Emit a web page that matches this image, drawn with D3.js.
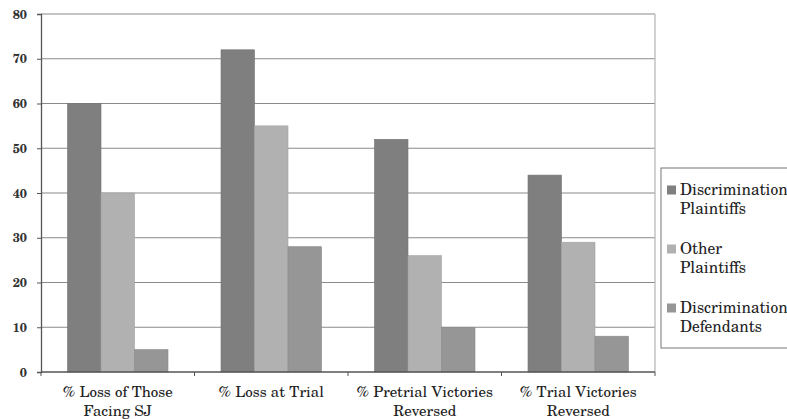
<!DOCTYPE html>
<html><head><meta charset="utf-8">
<script src="https://cdn.jsdelivr.net/npm/d3@7/dist/d3.min.js"></script>
<style>
html,body{margin:0;padding:0;background:#fff;}
svg{display:block;font-family:"TeX Gyre Schola","DejaVu Serif",serif;}
</style></head>
<body><svg id="chart" width="787" height="419"></svg>
<script>
const categories = [["% Loss of Those","Facing SJ"],["% Loss at Trial"],["% Pretrial Victories","Reversed"],["% Trial Victories","Reversed"]];
const seriesNames = [["Discrimination","Plaintiffs"],["Other","Plaintiffs"],["Discrimination","Defendants"]];
const discPlaintiffs = [60, 72, 52, 44];
const otherPlaintiffs = [40, 55, 26, 29];
const discDefendants = [5, 28, 10, 8];
const yTicks = [0,10,20,30,40,50,60,70,80];
const colors = ["#7f7f7f","#b1b1b1","#969696"];

const FONT = "TeX Gyre Schola, DejaVu Serif, serif";
const series = [discPlaintiffs, otherPlaintiffs, discDefendants];
const svg = d3.select("#chart");
const L = 41, R = 655, T = 14, B = 372;

const x = d3.scaleBand().domain(d3.range(categories.length)).range([L, R]).paddingInner(0).paddingOuter(0);
const inner = d3.scaleBand().domain(d3.range(series.length)).range([26.5, x.bandwidth()-26.5]);
const y = d3.scaleLinear().domain([0, 80]).range([B, T]);

// gridlines
svg.append("g").selectAll("line").data(yTicks.filter(d=>d>0)).join("line")
  .attr("x1", L).attr("x2", R).attr("y1", d=>y(d)).attr("y2", d=>y(d))
  .attr("stroke", "#8a8a8a").attr("stroke-width", 1.2);
// right border
svg.append("line").attr("x1", R).attr("x2", R).attr("y1", T).attr("y2", B)
  .attr("stroke", "#b4b4b4").attr("stroke-width", 1.2);

// bars
series.forEach((vals, s) => {
  svg.append("g").selectAll("rect").data(vals).join("rect")
    .attr("x", (d,i)=>x(i)+inner(s))
    .attr("width", inner.bandwidth())
    .attr("y", d=>y(d))
    .attr("height", d=>B - y(d))
    .attr("fill", colors[s])
    .attr("stroke", d3.color(colors[s]).darker(0.25))
    .attr("stroke-width", 0.6);
});

// y axis
const yAxis = svg.append("g").attr("transform", `translate(${L},0)`)
  .call(d3.axisLeft(y).tickValues(yTicks).tickSize(4).tickPadding(10));
yAxis.select(".domain").attr("stroke", "#555").attr("stroke-width", 1.3);
yAxis.selectAll(".tick line").attr("stroke", "#555");
yAxis.selectAll("text").attr("font-size", 12.5).attr("font-weight", "bold").attr("fill", "#333")
  .attr("font-family", FONT);

// x axis
const xAxis = svg.append("g").attr("transform", `translate(0,${B})`);
xAxis.append("line").attr("x1", L).attr("x2", R).attr("stroke", "#555").attr("stroke-width", 1.3);
xAxis.selectAll("line.tk").data(d3.range(categories.length+1)).join("line").attr("class","tk")
  .attr("x1", i => i < categories.length ? x(i) : R).attr("x2", i => i < categories.length ? x(i) : R)
  .attr("y1", 0).attr("y2", 4).attr("stroke", "#555");
const labels = xAxis.selectAll("text").data(categories).join("text")
  .attr("x", (d,i)=>x(i)+x.bandwidth()/2).attr("y", 25)
  .attr("text-anchor", "middle").attr("font-size", 15).attr("fill", "#222").attr("font-family", FONT);
labels.selectAll("tspan").data(d=>d).join("tspan")
  .attr("x", function(){ return d3.select(this.parentNode).attr("x"); })
  .attr("dy", (d,i)=> i===0 ? 0 : 19).text(d=>d);

// legend
const lg = svg.append("g");
lg.append("rect").attr("x", 661).attr("y", 168).attr("width", 140).attr("height", 180)
  .attr("fill", "#fff").attr("stroke", "#777").attr("stroke-width", 1);
const items = lg.selectAll("g.item").data(seriesNames).join("g").attr("class","item")
  .attr("transform", (d,i)=>`translate(0,${195 + i*59})`);
items.append("rect").attr("x", 667).attr("y", -9.5).attr("width", 9).attr("height", 9)
  .attr("fill", (d,i)=>colors[i]);
const lt = items.append("text").attr("x", 680).attr("y", 0).attr("font-size", 15.5).attr("fill", "#222").attr("font-family", FONT);
lt.selectAll("tspan").data(d=>d).join("tspan").attr("x", 680).attr("dy", (d,i)=> i===0?0:18.5).text(d=>d);
</script>
</body></html>
